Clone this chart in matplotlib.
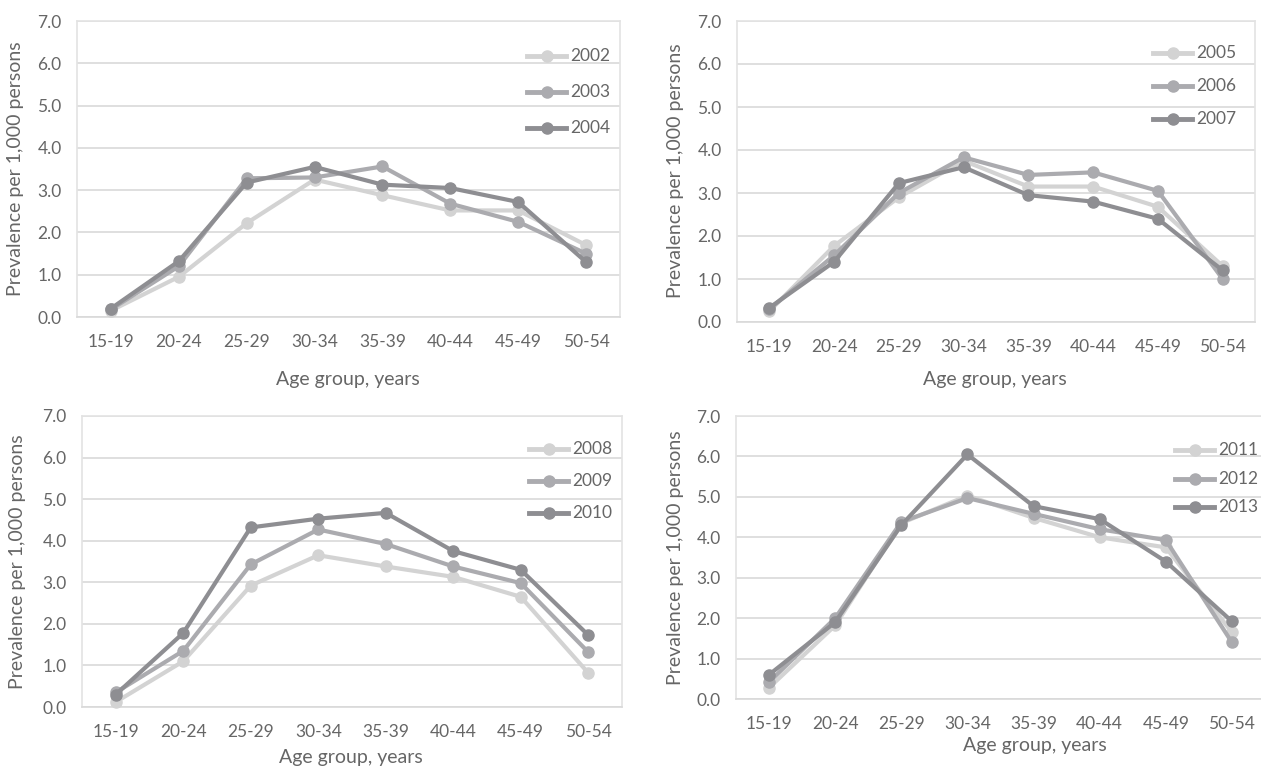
import matplotlib
matplotlib.use('Agg')
import matplotlib.pyplot as plt

plt.rcParams['font.family'] = ['Lato', 'DejaVu Sans']

age_groups = ['15-19', '20-24', '25-29', '30-34', '35-39', '40-44', '45-49', '50-54']

# panel 1
y2002 = [0.15, 0.95, 2.22, 3.25, 2.88, 2.52, 2.52, 1.70]
y2003 = [0.18, 1.20, 3.28, 3.30, 3.56, 2.68, 2.25, 1.50]
y2004 = [0.20, 1.32, 3.18, 3.55, 3.13, 3.05, 2.72, 1.30]
# panel 2
y2005 = [0.25, 1.77, 2.90, 3.75, 3.15, 3.15, 2.68, 1.30]
y2006 = [0.30, 1.55, 3.00, 3.83, 3.42, 3.48, 3.05, 1.00]
y2007 = [0.33, 1.40, 3.23, 3.60, 2.95, 2.80, 2.40, 1.20]
# panel 3
y2008 = [0.12, 1.10, 2.92, 3.65, 3.38, 3.13, 2.65, 0.82]
y2009 = [0.35, 1.35, 3.43, 4.27, 3.92, 3.38, 2.98, 1.32]
y2010 = [0.30, 1.78, 4.32, 4.53, 4.67, 3.75, 3.30, 1.73]
# panel 4
y2011 = [0.28, 1.82, 4.35, 5.03, 4.48, 4.00, 3.75, 1.65]
y2012 = [0.42, 2.00, 4.38, 4.97, 4.58, 4.20, 3.93, 1.40]
y2013 = [0.60, 1.90, 4.30, 6.05, 4.77, 4.45, 3.40, 1.92]

colors = ['#d3d3d3', '#ababaf', '#8e8e92']
text_col = '#666666'
W, H = 1261, 770

fig = plt.figure(figsize=(W / 100, H / 100), dpi=100)


def px_axes(x0, y0, x1, y1):
    # pixel box (left, top, right, bottom) -> figure fraction axes
    return fig.add_axes([x0 / W, 1 - y1 / H, (x1 - x0) / W, (y1 - y0) / H])


panels = [
    # axes box, series, years, legend anchor (x, y top, step), xlabel pos, ylabel pos
    ((77, 21, 620, 317), [y2002, y2003, y2004], ['2002', '2003', '2004'],
     (527, 56, 36), (348, 379), (16, 169)),
    ((737, 21, 1255, 322), [y2005, y2006, y2007], ['2005', '2006', '2007'],
     (1153, 53, 33), (995, 379), (675, 171)),
    ((82, 416, 622, 707), [y2008, y2009, y2010], ['2008', '2009', '2010'],
     (529, 449, 32), (351, 757), (18, 562)),
    ((736, 416, 1265, 699), [y2011, y2012, y2013], ['2011', '2012', '2013'],
     (1175, 450, 28.5), (1035, 745), (675, 558)),
]

x = list(range(len(age_groups)))
for box, series, years, leg, xl, yl in panels:
    ax = px_axes(*box)
    for i, (vals, yr) in enumerate(zip(series, years)):
        ax.plot(x, vals, color=colors[i], lw=3, marker='o', ms=8,
                solid_capstyle='butt', zorder=3 + i, clip_on=False)
        # legend entry drawn in pixels
        lx, ly, step = leg
        yy = 1 - (ly + i * step) / H
        fig.add_artist(plt.Line2D([lx / W, (lx + 39) / W], [yy, yy], color=colors[i], lw=3.5))
        fig.add_artist(plt.Line2D([(lx + 19.5) / W], [yy], color=colors[i], marker='o', ms=8))
        fig.text((lx + 43) / W, yy, yr, color=text_col, fontsize=12.5, va='center', ha='left')
    ax.set_xlim(-0.5, 7.5)
    ax.set_ylim(0, 7)
    ax.set_yticks([0, 1, 2, 3, 4, 5, 6, 7])
    ax.set_yticklabels(['%.1f' % v for v in ax.get_yticks()])
    ax.set_xticks(x)
    ax.set_xticklabels(age_groups)
    ax.tick_params(length=0, labelsize=12.5, colors=text_col)
    ax.tick_params(axis='x', pad=12)
    ax.tick_params(axis='y', pad=11)
    ax.grid(axis='y', color='#d9d9d9', lw=1.2)
    ax.set_axisbelow(True)
    for s in ax.spines.values():
        s.set_color('#e3e3e3')
        s.set_linewidth(1.2)
    ax.spines['bottom'].set_color('#d9d9d9')
    fig.text(xl[0] / W, 1 - xl[1] / H, 'Age group, years', color=text_col,
             fontsize=14, ha='center', va='center')
    fig.text(yl[0] / W, 1 - yl[1] / H, 'Prevalence per 1,000 persons', color=text_col,
             fontsize=14, ha='center', va='center', rotation=90)

fig.savefig('out.png', dpi=100)
